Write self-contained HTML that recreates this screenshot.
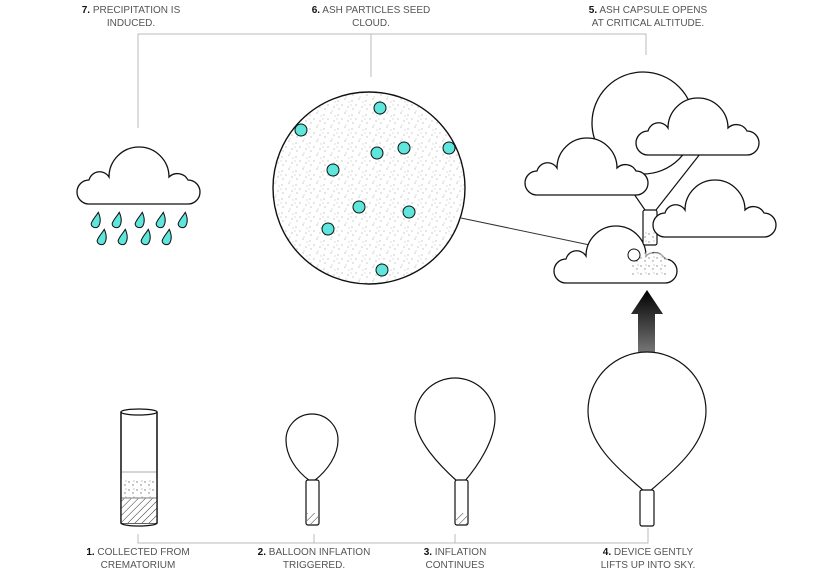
<!DOCTYPE html>
<html><head><style>
body{margin:0;background:#fff}
.t{position:absolute;font-family:"Liberation Sans",sans-serif;font-size:10px;line-height:13px;color:#555;text-align:center;width:160px;transform:translateX(-50%)}
.t b{color:#111}
</style></head><body>
<div style="position:relative;width:818px;height:578px;overflow:hidden">
<svg width="818" height="578" style="position:absolute;left:0;top:0">
<defs>
<pattern id="st" width="14" height="14" patternUnits="userSpaceOnUse">
<rect width="14" height="14" fill="#fff"/>
<g fill="#aaa"><circle cx="2" cy="3" r=".6"/><circle cx="9" cy="1" r=".6"/><circle cx="6" cy="7" r=".6"/><circle cx="12" cy="9" r=".6"/><circle cx="3" cy="11" r=".6"/><circle cx="10" cy="13" r=".5"/><circle cx="1" cy="7" r=".5"/><circle cx="13" cy="4" r=".5"/></g>
</pattern>
<pattern id="st2" width="8" height="8" patternUnits="userSpaceOnUse">
<rect width="8" height="8" fill="#fff"/><g fill="#333"><circle cx="1" cy="2" r=".7"/><circle cx="5" cy="5" r=".7"/><circle cx="6" cy="1" r=".5"/></g>
</pattern>
<pattern id="hatch" width="5" height="5" patternUnits="userSpaceOnUse" patternTransform="rotate(45)">
<rect width="5" height="5" fill="#fff"/><line x1="0" y1="0" x2="0" y2="5" stroke="#333" stroke-width="1"/>
</pattern>
<linearGradient id="ag" x1="0" y1="0" x2="0" y2="1"><stop offset="0" stop-color="#000"/><stop offset="1" stop-color="#777"/></linearGradient>
<path id="cl" d="M12,57 A12,12 0 0 1 12,33 A11,11 0 0 1 32,30 A30,30 0 0 1 92,30 A12,12 0 0 1 111,33 A12,12 0 0 1 111,57 Z" fill="#fff" stroke="#111" stroke-width="1.3"/>
<path id="drop" d="M0,-9 C4,-4 5,0 4,4 A4.3,4.3 0 0 1 -4,4 C-4,0 -1.5,-4 0,-9Z" fill="#5ee6dc" stroke="#111" stroke-width="1"/>
</defs>
<g stroke="#bbb" stroke-width="1" fill="none">
<path d="M138,128 V34 H646 V55 M371,34 V77"/>
<path d="M138,534 V543 H648 V528 M314,534 V543 M455,534 V543"/>
</g>
<use href="#cl" x="77" y="147"/>
<g>
<use href="#drop" transform="translate(96,221) rotate(15)"/><use href="#drop" transform="translate(117,221) rotate(15)"/><use href="#drop" transform="translate(140,221) rotate(15)"/><use href="#drop" transform="translate(161,221) rotate(15)"/><use href="#drop" transform="translate(183,221) rotate(15)"/>
<use href="#drop" transform="translate(102,238) rotate(15)"/><use href="#drop" transform="translate(123,238) rotate(15)"/><use href="#drop" transform="translate(146,238) rotate(15)"/><use href="#drop" transform="translate(167,238) rotate(15)"/>
</g>
<line x1="461" y1="218" x2="628" y2="253" stroke="#333" stroke-width="1"/>
<circle cx="369" cy="188" r="96" fill="url(#st)" stroke="#111" stroke-width="1.4"/>
<g fill="#5ee6dc" stroke="#111" stroke-width="1">
<circle cx="380" cy="108" r="6"/><circle cx="301" cy="130" r="6"/><circle cx="377" cy="153" r="6"/><circle cx="404" cy="148" r="6"/><circle cx="449" cy="148" r="6"/><circle cx="333" cy="170" r="6"/><circle cx="359" cy="207" r="6"/><circle cx="409" cy="212" r="6"/><circle cx="328" cy="229" r="6"/><circle cx="382" cy="270" r="6"/>
</g>
<circle cx="643" cy="123" r="51" fill="#fff" stroke="#111" stroke-width="1.3"/>
<path d="M634,194 L645,210 M700,154 L656,210" stroke="#111" stroke-width="1.2" fill="none"/>
<use href="#cl" x="636" y="98"/>
<use href="#cl" x="525" y="138"/>
<use href="#cl" transform="translate(554,226)"/>
<path d="M632,258 C640,250 660,250 668,258 L668,275 L632,275Z" fill="url(#st2)" opacity=".6"/>
<rect x="643" y="210" width="14" height="35" rx="2" fill="#fff" stroke="#111" stroke-width="1.2"/>
<rect x="644" y="232" width="12" height="12" fill="url(#st2)" opacity=".6"/>
<use href="#cl" x="653" y="180"/>
<circle cx="634" cy="255" r="6" fill="#fff" stroke="#111" stroke-width="1"/>
<path d="M647,290 L663,314 L655,314 L655,353 L638,353 L638,314 L631,314Z" fill="url(#ag)"/>
<g stroke="#111" stroke-width="1.3">
<rect x="121" y="412" width="36" height="111" fill="#fff"/>
<rect x="121" y="498" width="36" height="25" fill="url(#hatch)" stroke="none"/>
<rect x="121" y="479" width="36" height="19" fill="url(#st2)" stroke="none" opacity=".7"/>
<line x1="121" y1="472" x2="157" y2="472" stroke="#bbb"/>
<line x1="121" y1="498" x2="157" y2="498" stroke="#999"/>
<path d="M121,412 V523 A18,3 0 0 0 157,523 V412" fill="none"/>
<ellipse cx="139" cy="412" rx="18" ry="3" fill="#fff"/>
</g>
<g stroke="#111" stroke-width="1.2" fill="#fff">
<path d="M310,481 C295,470 286,455 286,440 A26,26 0 1 1 338,440 C338,455 328,470 314,481Z"/>
<rect x="306" y="480" width="13" height="45" rx="2"/>
<rect x="307" y="513" width="11" height="11" fill="url(#hatch)" stroke="none"/>
<path d="M458,482 C440,466 415,440 415,418 A40,40 0 1 1 495,418 C495,440 478,466 464,482Z"/>
<rect x="455" y="480" width="13" height="45" rx="2"/>
<rect x="456" y="513" width="11" height="11" fill="url(#hatch)" stroke="none"/>
<path d="M644,491 C620,470 588,445 588,411 A59,59 0 1 1 706,411 C706,445 674,470 650,491Z"/>
<rect x="640" y="490" width="14" height="36" rx="2"/>
</g>
</svg>
<div class="t" style="left:131px;top:4px"><b>7.</b> PRECIPITATION IS<br>INDUCED.</div>
<div class="t" style="left:371px;top:4px"><b>6.</b> ASH PARTICLES SEED<br>CLOUD.</div>
<div class="t" style="left:648px;top:4px"><b>5.</b> ASH CAPSULE OPENS<br>AT CRITICAL ALTITUDE.</div>
<div class="t" style="left:138px;top:546px"><b>1.</b> COLLECTED FROM<br>CREMATORIUM</div>
<div class="t" style="left:314px;top:546px"><b>2.</b> BALLOON INFLATION<br>TRIGGERED.</div>
<div class="t" style="left:455px;top:546px"><b>3.</b> INFLATION<br>CONTINUES</div>
<div class="t" style="left:648px;top:546px"><b>4.</b> DEVICE GENTLY<br>LIFTS UP INTO SKY.</div>
</div>
</body></html>
